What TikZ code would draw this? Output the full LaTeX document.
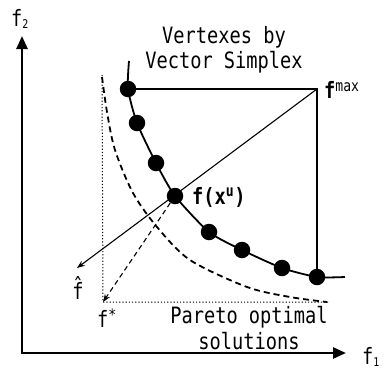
\documentclass[tikz,border=0pt]{standalone}
\usepackage{fontspec}
\newfontfamily\gothic[FakeStretch=0.83]{DejaVu Sans Mono}
\usetikzlibrary{arrows.meta,backgrounds}

\newcommand{\axsub}[1]{\raisebox{-2pt}{\fontsize{12}{12}\selectfont #1}}

\begin{document}
\begin{tikzpicture}[
  x=1pt,
  y=-1pt,
  font=\gothic\fontsize{22.5}{25.5}\selectfont,
  >=Stealth,
  axis/.style={line width=2.6pt, {Triangle[length=13pt,width=11pt]}-{Triangle[length=13pt,width=11pt]}},
  vtx/.style={circle, fill=black, inner sep=0pt, minimum size=16.5pt},
  front/.style={line width=1.8pt},
  edge/.style={line width=1.1pt},
  ideal/.style={line width=1.8pt, dash pattern=on 6pt off 4pt},
  guide/.style={line width=1pt, dash pattern=on 1.2pt off 2pt},
  lab/.style={inner sep=1pt, align=center}
]
  \useasboundingbox (0,0) rectangle (385,367);

  \coordinate (ytop) at (22,36);
  \coordinate (orig) at (22,353);
  \coordinate (xend) at (346,353);
  \draw[axis] (ytop) -- (orig) -- (xend);
  \node[lab, anchor=west] (f2) at (10,19) {f\axsub{2}};
  \node[lab, anchor=west] (f1) at (361,357) {f\axsub{1}};

  \node[vtx] (v1) at (128,89) {};
  \node[vtx] (v2) at (137,123) {};
  \node[vtx] (v3) at (156,163) {};
  \node[vtx] (fu) at (175,196) {};
  \node[vtx] (v5) at (209,232) {};
  \node[vtx] (v6) at (242,250) {};
  \node[vtx] (v7) at (282,268) {};
  \node[vtx] (v8) at (317,277) {};

  \coordinate (ctop) at (129,61);
  \coordinate (cend) at (345,277);
  \coordinate (cmax) at (317,89);
  \coordinate (hattip) at (77,268);
  \coordinate (star) at (103,302);
  \coordinate (ltop) at (102,75);
  \coordinate (rend) at (328,302);

  \begin{scope}[on background layer]
    \draw[front] plot[smooth, tension=0.4] coordinates {(ctop) (v1) (v2) (v3) (fu) (v5) (v6) (v7) (v8) (cend)};
  \end{scope}

  \draw[ideal] plot[smooth] coordinates {(102,77) (107,112) (115,150) (133,193) (157,227) (190,260) (247,287) (290,297) (327,302)};
  \draw[guide] (ltop) -- (star) -- (rend);

  \draw[edge] (v1) -- (cmax) -- (v8);
  \draw[edge, ->] (cmax) -- (hattip);
  \draw[edge, dash pattern=on 5pt off 3.5pt, ->] (fu) -- (star);

  \node[lab] (title) at (224,50) {Vertexes by\\Vector Simplex};
  \node[lab] (pareto) at (249,328) {Pareto optimal\\solutions};
  \node[lab, anchor=west] (fxu) at (191,197) {\bfseries f(x\textsuperscript{u})};
  \node[lab, anchor=west] (fmax) at (323,90) {\bfseries f\textsuperscript{\mdseries max}};
  \node[lab] (fhat) at (78,288) {\^f};
  \node[lab] (fstar) at (107,318) {f\textsuperscript{*}};
\end{tikzpicture}
\end{document}
